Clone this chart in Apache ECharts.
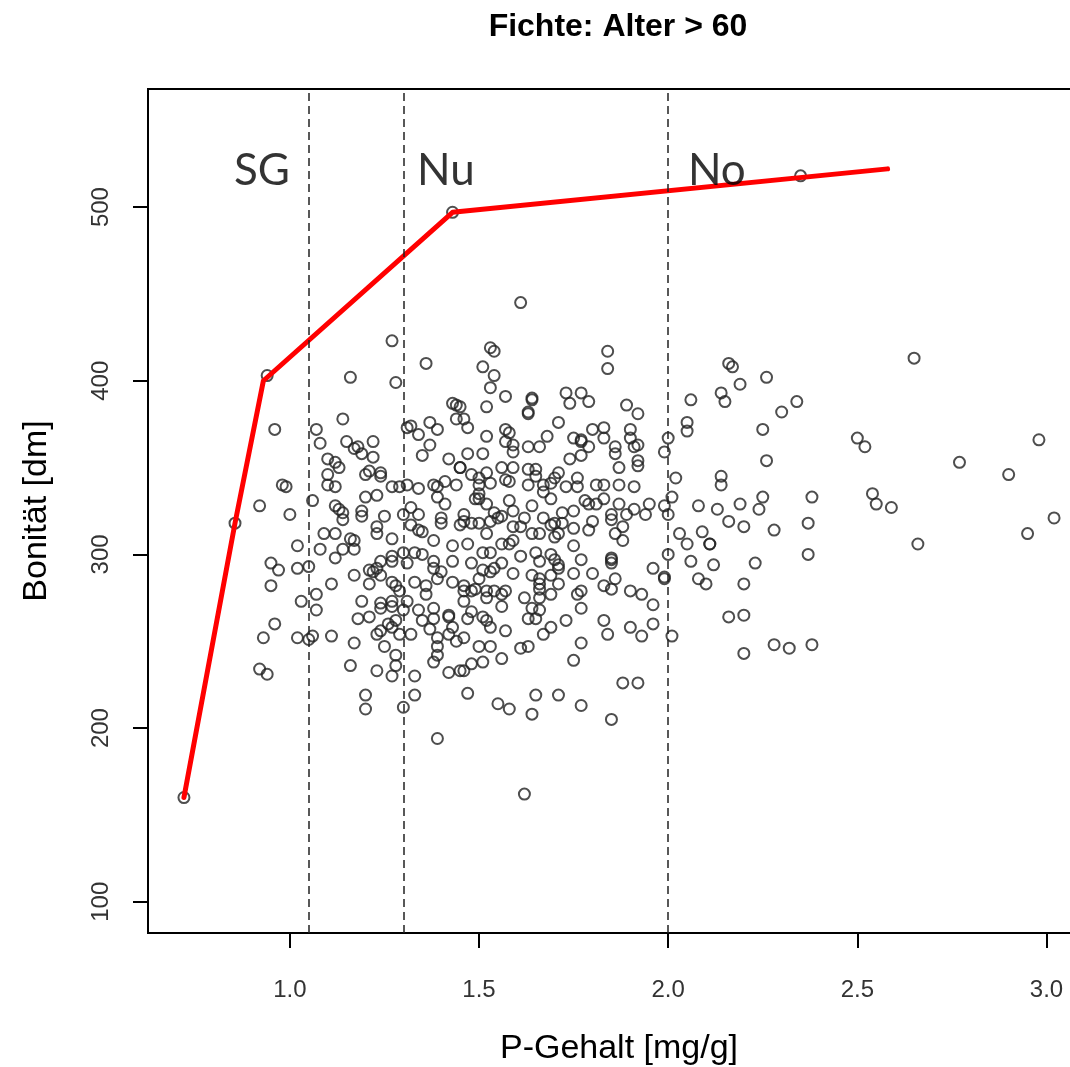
<!DOCTYPE html>
<html><head><meta charset="utf-8">
<script src="https://cdn.jsdelivr.net/npm/echarts@6/dist/echarts.min.js"></script>
<style>html,body{margin:0;padding:0;background:#fff;overflow:hidden}#c{width:1070px;height:1067px}</style>
</head><body><div id="c"></div>
<script>
const titel = 'Fichte: Alter > 60';
const xName = 'P-Gehalt [mg/g]';
const yName = 'Bonität [dm]';
const xTicks = [1.0, 1.5, 2.0, 2.5, 3.0];
const yTicks = [100, 200, 300, 400, 500];
const grenzen = [1.05, 1.3, 2.0];
const bereiche = ['SG', 'Nu', 'No'];
const bereichX = [0.852, 1.336, 2.052];
const bereichY = [521, 521, 521];
const linieX = [0.72, 0.855, 0.93, 1.43, 2.58];
const linieY = [160, 318, 400, 497, 522];
const punkte = [
[1.27,423],[1.36,410],[1.16,402],[1.28,399],[0.94,403],[0.96,372],[1.14,378],[1.07,372],[1.08,364],[1.15,365],[1.17,361],[1.18,362],[1.19,358],[1.22,365],[1.22,356],[1.10,355],[1.12,353],[1.13,350],[1.10,346],[1.10,340],[1.12,339],[1.21,348],[1.20,346],[1.24,347],[1.24,345],[0.98,340],[0.99,339],[1.32,374],[1.31,373],[1.34,369],[1.37,376],[1.39,372],[1.37,363],[1.35,357],[1.42,355],[1.43,387],[1.44,386],[1.44,378],[1.45,350],[1.27,339],[1.29,339],[1.31,340],[1.34,338],[1.38,340],[1.39,339],[1.41,342],[1.44,340],
[1.53,419],[1.54,417],[1.84,417],[1.84,407],[1.51,408],[1.54,403],[1.53,396],[1.57,391],[1.52,385],[1.64,390],[1.64,389],[1.63,382],[1.63,381],[1.73,393],[1.77,393],[1.74,387],[1.79,388],[1.89,386],[1.92,381],[1.71,376],[1.45,385],[1.46,378],[1.47,373],[1.52,368],[1.57,372],[1.58,370],[1.57,365],[1.59,363],[1.59,359],[1.63,362],[1.66,362],[1.68,368],[1.75,367],[1.77,366],[1.77,365],[1.79,362],[1.80,372],[1.83,373],[1.83,367],[1.86,362],[1.86,358],[1.90,372],[1.90,367],[1.91,362],[1.92,363],[1.92,354],[1.92,351],[1.87,350],[1.74,355],[1.77,357],[1.47,358],[1.51,358],[1.45,350],[1.48,346],[1.50,344],[1.52,347],[1.56,350],[1.59,350],[1.63,349],[1.65,349],[1.65,345],[1.70,344],[1.71,347],[1.76,344],[1.57,343],[1.58,342],[1.53,341],[1.50,340],[1.81,340],[1.83,340],[1.87,340],[1.91,339],[2.00,367],[1.99,359],[2.02,344],[2.05,376],[2.05,371],[2.06,389],[2.14,393],[2.15,388],[2.16,410],[2.17,408],[2.19,398],[2.14,345],[2.14,340],[2.26,402],[2.25,372],[2.26,354],[1.73,339],[1.76,339],[1.67,340],[1.69,341],[1.63,340],
[2.34,388],[2.30,382],[2.65,413],[2.50,367],[2.52,362],[2.77,353],[2.98,366],[2.90,346],
[2.38,333],[2.54,335],[2.55,329],[2.59,327],[2.28,314],[2.37,318],[2.37,300],[2.66,306],[2.95,312],[3.02,321],[2.28,248],[2.32,246],[2.38,248],
[1.43,497],[2.35,518],[1.61,445],[0.72,160],[0.855,318],
[1.06,331],[0.92,328],[1.00,323],[1.12,328],[1.13,326],[1.14,324],[1.14,320],[1.19,325],[1.19,322],[1.20,333],[1.23,334],[1.25,322],[1.23,316],[1.23,312],[1.27,309],[1.09,312],[1.12,312],[1.16,309],[1.17,308],[1.14,303],[1.17,303],[1.02,305],[1.08,303],[1.12,298],[0.95,295],[0.97,291],[1.02,292],[1.05,293],[0.95,282],[1.11,283],[1.17,288],[1.21,291],[1.22,290],[1.23,292],[1.24,296],[1.24,288],[1.21,283],[1.27,296],[1.27,299],[1.30,301],[1.31,295],[1.33,301],[1.35,300],[1.27,284],[1.28,282],[1.29,279],[1.33,284],[1.36,282],[1.36,277],[1.38,296],[1.38,292],[1.40,290],[1.39,286],[1.43,296],[1.43,284],[1.38,308],[1.43,305],[1.40,321],[1.40,318],[1.32,327],[1.34,323],[1.32,317],[1.34,314],[1.35,313],[1.30,323],[1.41,329],[1.39,333],[1.45,317],[1.03,273],[1.07,277],[1.07,268],[1.19,273],[1.24,272],[1.24,269],[1.27,273],[1.27,270],[1.31,273],[1.30,268],[1.34,268],[1.38,269],[1.42,265],[1.42,264],[1.18,263],[1.21,264],[1.26,260],[1.27,258],[1.28,262],[1.35,262],[1.38,263],[1.43,258],[0.96,260],[0.93,252],[1.02,252],[1.05,251],[1.06,253],[1.11,253],[1.17,249],[1.23,254],[1.24,256],[1.29,254],[1.25,247],[1.28,242],[1.32,254],[1.37,257],[1.39,252],[1.39,247],[1.39,242],[1.42,254],[1.44,250],
[0.92,234],[0.94,231],[1.16,236],[1.23,233],[1.28,236],[1.27,230],[1.33,230],[1.33,219],[1.20,219],[1.20,211],[1.30,212],[1.39,194],[1.42,232],[1.45,233],[1.38,238],
[1.46,233],[1.48,237],[1.51,238],[1.47,220],[1.55,214],[1.58,211],[1.65,219],[1.64,208],[1.71,219],[1.77,213],[1.85,205],[1.88,226],[1.92,226],[1.62,162],
[2.01,333],[2.08,328],[2.13,326],[2.19,329],[2.24,326],[2.25,333],[2.00,323],[1.99,328],[1.95,329],[1.94,323],[1.91,326],[1.89,323],[1.87,329],[1.88,316],[1.88,308],[1.86,312],[1.85,323],[1.85,320],[1.83,332],[1.81,329],[1.79,329],[1.78,331],[1.80,319],[1.79,314],[1.75,325],[1.75,315],[1.72,324],[1.72,318],[1.70,318],[1.69,317],[1.71,312],[1.70,310],[1.67,321],[1.69,332],[1.67,336],[1.64,328],[1.66,312],[1.64,312],[1.62,321],[1.59,325],[1.58,331],[1.61,316],[1.59,316],[1.59,308],[1.58,306],[1.56,306],[1.54,324],[1.55,321],[1.53,319],[1.56,322],[1.52,312],[1.50,318],[1.48,318],[1.46,323],[1.46,319],[1.50,332],[1.52,329],[1.47,306],[1.48,295],[1.51,301],[1.53,301],[1.51,291],[1.53,290],[1.54,292],[1.50,286],[1.56,295],[1.59,289],[1.61,299],[1.65,301],[1.66,296],[1.69,300],[1.70,297],[1.71,294],[1.71,292],[1.64,288],[1.66,286],[1.66,283],[1.66,280],[1.69,288],[1.71,283],[1.69,277],[1.62,275],[1.66,275],[1.64,269],[1.66,268],[1.63,263],[1.65,263],[1.54,279],[1.56,277],[1.57,279],[1.52,279],[1.52,275],[1.49,280],[1.48,279],[1.56,270],[1.46,282],[1.46,279],[1.46,273],[1.48,267],[1.47,263],[1.51,264],[1.52,262],[1.53,258],[1.57,256],[1.46,252],[1.50,247],[1.53,247],[1.56,240],[1.61,246],[1.63,247],[1.67,254],[1.69,258],[1.73,262],[1.75,289],[1.77,297],[1.75,305],[1.77,279],[1.76,277],[1.77,269],[1.77,249],[1.80,289],[1.83,282],[1.85,298],[1.85,297],[1.85,295],[1.86,286],[1.85,280],[1.83,262],[1.84,254],[1.90,279],[1.90,258],[1.93,277],[1.93,253],[1.96,271],[1.96,292],[1.96,260],[1.99,287],[1.99,286],[2.00,300],[2.01,253],[2.03,312],[2.05,306],[2.06,296],[2.08,286],[2.10,283],[2.09,313],[2.11,306],[2.11,306],[2.12,294],[2.16,319],[2.20,316],[2.23,295],[2.20,283],[2.16,264],[2.20,265],[2.20,243],[1.75,239],[1.50,335],[1.49,332]
];

const FONT = '"Liberation Sans", Arial, sans-serif';
const chart = echarts.init(document.getElementById('c'), null, {renderer: 'canvas'});
chart.setOption({
  animation: false,
  backgroundColor: '#fff',
  title: {
    text: titel, left: 613, top: 6, textAlign: 'center',
    textStyle: {fontFamily: FONT, fontWeight: 'bold', fontSize: 32, color: '#000'}
  },
  grid: {left: 148, width: 942, top: 89, height: 844, outerBoundsMode: 'none', containLabel: false,
         show: true, borderColor: '#000', borderWidth: 2, backgroundColor: 'transparent'},
  xAxis: {
    type: 'value', min: 0.625, max: 3.115,
    splitLine: {show: false},
    axisLine: {show: true, onZero: false, lineStyle: {color: '#000', width: 2}},
    axisTick: {show: true, inside: false, length: 15, customValues: xTicks, lineStyle: {color: '#000', width: 2}},
    axisLabel: {customValues: xTicks, margin: 45, formatter: v => Number(v).toFixed(1), fontFamily: FONT, fontSize: 24, color: '#333'},
    name: xName, nameLocation: 'middle', nameGap: 99,
    nameTextStyle: {fontFamily: FONT, fontSize: 34, color: '#000'}
  },
  yAxis: {
    type: 'value', min: 82, max: 568,
    splitLine: {show: false},
    axisLine: {show: true, onZero: false, lineStyle: {color: '#000', width: 2}},
    axisTick: {show: true, inside: false, length: 15, customValues: yTicks, lineStyle: {color: '#000', width: 2}},
    axisLabel: {customValues: yTicks, rotate: 90, margin: 35, fontFamily: FONT, fontSize: 24, color: '#333'},
    name: yName, nameLocation: 'middle', nameGap: 94, nameRotate: 90,
    nameTextStyle: {fontFamily: FONT, fontSize: 34, color: '#000'}
  },
  series: [
    {
      type: 'scatter', z: 2,
      data: punkte,
      symbol: 'circle', symbolSize: 11,
      itemStyle: {color: 'rgba(0,0,0,0)', borderColor: '#222', borderWidth: 2},
      markLine: {
        silent: true, symbol: ['none', 'none'], label: {show: false},
        lineStyle: {type: [8, 5], color: '#222', width: 1.5},
        data: grenzen.map(v => ({xAxis: v}))
      }
    },
    {
      type: 'line', z: 4,
      data: linieX.map((x, i) => [x, linieY[i]]),
      showSymbol: false, symbol: 'none',
      lineStyle: {color: '#ff0000', width: 5, cap: 'round', join: 'round'}
    },
    {
      type: 'scatter', z: 5, silent: true,
      data: bereiche.map((n, i) => ({name: n, value: [bereichX[i], bereichY[i]]})),
      symbol: 'circle', symbolSize: 0.1,
      itemStyle: {color: 'rgba(0,0,0,0)'},
      label: {show: true, formatter: '{b}', position: 'right', distance: 0, fontFamily: 'Lato', fontSize: 44, color: '#000'}
    }
  ]
});
</script></body></html>
